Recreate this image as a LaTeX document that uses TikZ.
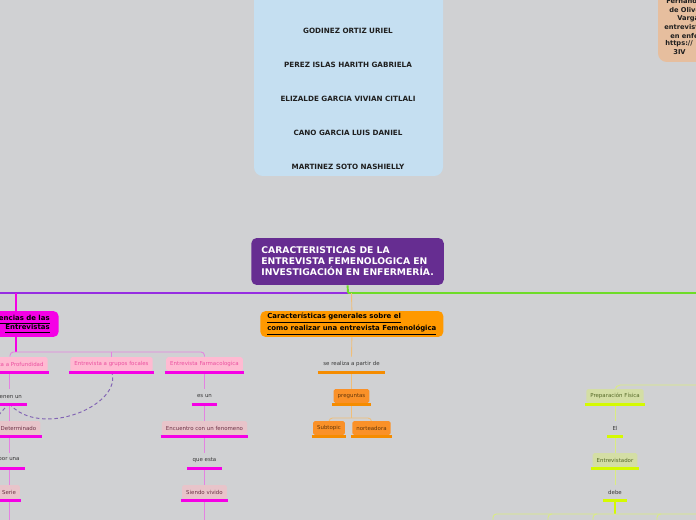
\documentclass[tikz,border=0pt]{standalone}
\usepackage{fontspec}
\setmainfont{DejaVu Sans}
\usetikzlibrary{positioning,backgrounds,calc}
\definecolor{bgcol}{RGB}{208,209,211}
\definecolor{namecol}{RGB}{197,223,241}
\definecolor{refcol}{RGB}{230,190,158}
\definecolor{titlecol}{RGB}{102,45,145}
\definecolor{purplecol}{RGB}{150,45,225}
\definecolor{greencol}{RGB}{110,220,40}
\definecolor{magcol}{RGB}{245,0,230}
\definecolor{maglight}{RGB}{228,130,225}
\definecolor{pinkfill}{RGB}{255,186,210}
\definecolor{pinktext}{RGB}{235,80,160}
\definecolor{rosefill}{RGB}{232,196,202}
\definecolor{rosetext}{RGB}{110,50,70}
\definecolor{orgcol}{RGB}{255,153,0}
\definecolor{orglight}{RGB}{240,190,120}
\definecolor{orgfill}{RGB}{250,145,40}
\definecolor{orgtext}{RGB}{100,55,10}
\definecolor{orgbarcol}{RGB}{245,140,0}
\definecolor{limecol}{RGB}{212,250,0}
\definecolor{limelight}{RGB}{218,236,130}
\definecolor{olivefill}{RGB}{212,222,165}
\definecolor{olivetext}{RGB}{85,105,40}
\definecolor{labelcol}{RGB}{55,55,55}
\definecolor{relcol}{RGB}{130,100,180}

\begin{document}
\begin{tikzpicture}[
  x=0.02cm, y=-0.02cm,
  small/.style={font=\fontsize{3.1}{3.8}\selectfont},
  lbl/.style={small, text=labelcol, inner xsep=0.08cm, inner ysep=0pt,
              minimum height=0.28cm},
  pinkbox/.style={lbl, fill=pinkfill, text=pinktext, rounded corners=1pt},
  rosebox/.style={lbl, fill=rosefill, text=rosetext, rounded corners=1pt},
  orgbox/.style={lbl, fill=orgfill, text=orgtext, rounded corners=1pt},
  olivebox/.style={lbl, fill=olivefill, text=olivetext, rounded corners=1pt},
  headbox/.style={font=\fontsize{3.95}{5.1}\selectfont\bfseries, rounded corners=3pt,
                  minimum height=0.52cm, inner ysep=0pt},
  namelbl/.style={font=\fontsize{4.1}{5}\selectfont\bfseries, text=black!88},
  reflbl/.style={font=\fontsize{3.8}{4.6}\selectfont\bfseries, text=black!88,
                 anchor=west, inner sep=0pt},
  ubar/.style={line width=1.4pt, shorten <=-0.6pt, shorten >=-0.6pt},
  link/.style={line width=0.5pt},
  rel/.style={relcol, line width=0.55pt, dash pattern=on 2pt off 1.5pt}
]
  \useasboundingbox (0,0) rectangle (696,520);
  \clip (0,0) rectangle (696,520);

  % Team names
  \fill[namecol, rounded corners=5pt] (254,-10) rectangle (443,176);
  \foreach \name [count=\i from 0] in
    {GODINEZ ORTIZ URIEL, PEREZ ISLAS HARITH GABRIELA, ELIZALDE GARCIA VIVIAN CITLALI,
     CANO GARCIA LUIS DANIEL, MARTINEZ SOTO NASHIELLY}
    \node[namelbl] (name\i) at (348,31+34*\i) {\name};

  % Reference note (cut by the right edge)
  \fill[refcol, rounded corners=5pt] (658,-10) rectangle (730,62);
  \node[reflbl] (refA) at (666,1) {Fernando};
  \node[reflbl] (refB) at (669,10) {de Oliveira};
  \node[reflbl] (refC) at (677,18.5) {Vargas};
  \node[reflbl] (refD) at (664,27) {entrevista};
  \node[reflbl] (refE) at (670,35.5) {en enfermería};
  \node[reflbl] (refF) at (665,44) {https://};
  \node[reflbl] (refG) at (673,52.5) {3IV};

  % Central topic
  \node[fill=titlecol, text=white, rounded corners=3pt, anchor=west, align=left,
        font=\fontsize{5.25}{6.25}\selectfont\bfseries, inner xsep=0.2cm,
        minimum height=0.94cm] (tema) at (251,261.5)
    {CARACTERISTICAS DE LA\\ENTREVISTA FEMENOLOGICA EN\\INVESTIGACIÓN EN ENFERMERÍA.};

  % Main branches
  \node[headbox, fill=magcol, align=right, anchor=east, inner xsep=0.18cm] (tipos)
    at (59,324) {\underline{Diferencias de las}\\\underline{Entrevistas}\hspace{1.7pt}};
  \node[headbox, fill=orgcol, align=left, anchor=west, inner xsep=0.14cm] (caract)
    at (260,324) {\underline{Características generales sobre el}\\
                  \underline{como realizar una entrevista Femenológica}};

  % Types of interview
  \node[pinkbox] (prof)   at (10,364)    {Entrevista a Profundidad};
  \node[pinkbox] (grupos) at (111.5,364) {Entrevista a grupos focales};
  \node[pinkbox] (farma)  at (204.5,364) {Entrevista Farmacologica};
  \node[lbl]     (tienen) at (9,396)     {tienen un};
  \node[rosebox] (determ) at (18.5,428)  {Determinado};
  \node[lbl]     (poruna) at (9,460)     {por una};
  \node[rosebox] (serie)  at (9,492)     {Serie};
  \node[lbl]     (esun)      at (204.5,396) {es un};
  \node[rosebox] (encuentro) at (204.5,428) {Encuentro con un fenomeno};
  \node[lbl]     (queesta)   at (204.5,460) {que esta};
  \node[rosebox] (siendo)    at (204.5,492) {Siendo vivido};

  % General features
  \node[lbl]    (realiza)   at (351.5,364) {se realiza a partir de};
  \node[orgbox] (preguntas) at (351.5,396) {preguntas};
  \node[orgbox] (subtopic)  at (329,428)   {Subtopic};
  \node[orgbox] (nortea)    at (371.5,428) {norteadora};

  % Preparation
  \node[olivebox] (prepara)       at (615,396) {Preparación Física};
  \node[lbl]      (el)            at (615,428) {El};
  \node[olivebox] (entrevistador) at (615,460) {Entrevistador};
  \node[lbl]      (debe)          at (615,492) {debe};

  % Underline bars
  \foreach \n in {prof,grupos,farma,tienen,determ,poruna,serie,esun,encuentro,queesta,siendo}
    \draw[ubar, magcol] ([yshift=-0.6pt]\n.south west) -- ([yshift=-0.6pt]\n.south east);
  \foreach \n in {realiza,preguntas,subtopic,nortea}
    \draw[ubar, orgbarcol] ([yshift=-0.6pt]\n.south west) -- ([yshift=-0.6pt]\n.south east);
  \foreach \n in {prepara,el,entrevistador,debe}
    \draw[ubar, limecol] ([yshift=-0.6pt]\n.south west) -- ([yshift=-0.6pt]\n.south east);

  \begin{scope}[on background layer]
    \fill[bgcol] (0,0) rectangle (696,520);
    \clip (0,0) rectangle (696,520);
    \coordinate (hub) at (348,293);
    \coordinate (magroot) at (16,293);
    \coordinate (orgroot) at (351.5,293);
    \coordinate (colA) at (9,0);
    \coordinate (limeroot) at (700,385);

    \draw[purplecol, line width=1.1pt] (0,293) -- (hub);
    \draw[greencol, line width=1.1pt] (hub) -- (696,293);
    \draw[greencol, line width=1.1pt] (tema.south) -- (hub);

    % magenta branch
    \draw[magcol, line width=0.8pt] (magroot) -- (magroot |- tipos.north);
    \draw[magcol, line width=1.2pt] (magroot |- tipos.south) -- (16,352) coordinate (magfork);
    \draw[maglight, link, rounded corners=2pt] (prof.north) |- (magfork) -| (farma.north);
    \draw[maglight, link] (grupos.north) -- (grupos.north |- magfork);
    \foreach \a/\b in {prof/tienen, tienen/determ, determ/poruna, poruna/serie}
      \draw[maglight, link] (colA |- \a.south) -- (colA |- \b.north);
    \draw[maglight, link] (colA |- serie.south) -- (9,520);
    \foreach \a/\b in {farma/esun, esun/encuentro, encuentro/queesta, queesta/siendo}
      \draw[maglight, link] (\a.south) -- (\b.north);
    \draw[maglight, link] (siendo.south) -- (204.5,520);

    % relations
    \draw[rel] (grupos.south) .. controls (124,405) and (40,440) .. (tienen.south);
    \draw[rel] (tienen.south) -- (-3,417);

    % orange branch
    \draw[orglight, link] (orgroot) -- (caract.north);
    \draw[orglight, link] (caract.south) -- (realiza.north);
    \draw[orglight, link] (realiza.south) -- (preguntas.north);
    \draw[orglight, link] (preguntas.south) -- (351.5,418) coordinate (orgfork);
    \draw[orglight, link, rounded corners=2pt] (subtopic.north) |- (orgfork) -| (nortea.north);

    % lime branch
    \draw[limelight, link, rounded corners=3pt] (limeroot) -| (prepara.north);
    \draw[limelight, link] (prepara.south) -- (el.north);
    \draw[limelight, link] (el.south) -- (entrevistador.north);
    \draw[limelight, link] (entrevistador.south) -- (debe.north);
    \draw[limecol, line width=1.2pt] (debe.south) -- (615,514) coordinate (limefork);
    \draw[limelight, link, rounded corners=2pt] (493,522) |- (limefork) -- (700,514);
    \foreach \x in {548,593,657}
      \draw[limelight, link, rounded corners=2pt] (\x,522) |- (\x+4,514);
  \end{scope}
\end{tikzpicture}
\end{document}
